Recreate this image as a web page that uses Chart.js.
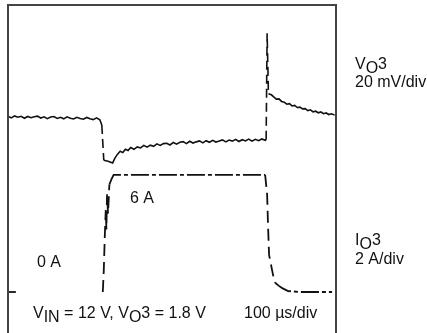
<!DOCTYPE html>
<html lang="en">
<head>
  <meta charset="UTF-8" />
  <title>VO3 load transient</title>
  <script src="https://cdn.jsdelivr.net/npm/chart.js"></script>
  <style>
    body {
      margin: 0;
      background: #fff;
    }
    #wrap {
      width: 427px;
      height: 333px;
    }
  </style>
</head>
<body>
<div id="wrap"><canvas id="scope"></canvas></div>
<script>
  // time axis in µs (100 µs/div)
  const vTime = [0, 10, 20, 30, 40, 50, 60, 70, 80, 90, 100, 110, 120, 130, 140, 150, 160, 170, 180, 190,
    200, 210, 220, 230, 240, 250, 260, 270, 280, 286, 292, 305, 319, 326, 334, 342, 350, 358, 366, 374,
    384, 394, 404, 414, 424, 434, 444, 454, 464, 474, 484, 494, 504, 514, 524, 534, 544, 554, 564, 574,
    584, 594, 604, 614, 624, 634, 644, 654, 664, 674, 684, 694, 704, 714, 724, 734, 744, 754, 764, 774,
    784, 787, 790, 794, 803, 810, 818, 826, 834, 842, 850, 858, 866, 874, 882, 890, 898, 906, 914, 922,
    930, 938, 946, 954, 962, 970, 978, 986, 996];
  // VO3 deviation in mV (20 mV/div)
  const vMilli = [1.0, 0.2, 1.2, 0.5, 1.0, 0.0, 0.9, 0.3, 0.8, 1.1, 0.1, 0.7, -0.2, 0.6, 0.9, -0.1, 0.5, -0.3, 0.7, 0.0,
    -0.4, 0.5, -0.1, -0.5, 0.4, -0.3, -0.7, 0.2, -0.8, -3.5, -21.5, -22.0, -22.9, -20.4, -18.4, -16.9, -17.6, -15.9, -16.5, -15.0,
    -15.9, -14.7, -15.2, -13.9, -14.8, -13.8, -14.4, -13.1, -13.9, -13.0, -12.8, -13.7, -12.4, -13.3, -12.3, -12.0, -13.0, -11.8, -12.7, -12.1,
    -11.6, -12.6, -11.5, -12.3, -11.3, -12.2, -11.7, -11.1, -12.1, -11.2, -11.7, -10.8, -11.9, -11.0, -11.6, -10.7, -11.7, -10.8, -11.5, -10.6,
    -11.3, -11.0, 43.5, 12.6, 12.0, 10.9, 9.8, 9.9, 8.6, 8.2, 7.2, 7.5, 6.3, 6.6, 5.5, 5.7, 4.8, 4.9, 3.9, 4.3,
    3.3, 3.6, 2.8, 3.2, 2.3, 2.7, 1.9, 2.3, 1.6];

  // IO3 load current in A (2 A/div)
  const iTime = [0, 24, 60, 289, 292, 295, 298, 300, 302, 305, 309, 316, 322, 360, 500, 650, 784,
    790, 793, 796, 803, 809, 815, 827, 836, 854, 891, 988];
  const iAmps = [0, 0, null, 0, 1.1, 2.8, 4.2, 3.2, 5.0, 4.0, 5.5, 5.8, 6.0, 6.0, 6.0, 6.0, 6.0,
    5.0, 3.3, 1.9, 1.3, 0.8, 0.46, 0.3, 0.2, 0.05, 0, 0];

  const FONT = "16px 'Liberation Sans', Arial, sans-serif";
  const INK = "#111";

  // steep (fast) edges look broken on the scope photo
  const steep = ctx => Math.abs(ctx.p1.y - ctx.p0.y) > 3 * Math.abs(ctx.p1.x - ctx.p0.x);

  function richText(ctx, parts, x, y) {
    parts.forEach(p => {
      ctx.fillText(p.t, x, p.sub ? y + 4 : y);
      x += ctx.measureText(p.t).width;
    });
  }

  const frameAndText = {
    id: "frameAndText",
    afterDraw(chart) {
      const { ctx, chartArea: a } = chart;
      ctx.save();
      ctx.strokeStyle = "#444";
      ctx.lineWidth = 2;
      ctx.beginPath();
      ctx.moveTo(a.left, a.bottom);
      ctx.lineTo(a.left, a.top);
      ctx.lineTo(a.right, a.top);
      ctx.lineTo(a.right, a.bottom);
      ctx.stroke();

      ctx.fillStyle = INK;
      ctx.font = FONT;
      ctx.textBaseline = "alphabetic";
      richText(ctx, [{ t: "V" }, { t: "O", sub: true }, { t: "3" }], 355, 69);
      ctx.fillText("20 mV/div", 355, 87);
      richText(ctx, [{ t: "I" }, { t: "O", sub: true }, { t: "3" }], 355, 245);
      ctx.fillText("2 A/div", 355, 264);
      ctx.fillText("6 A", 130, 203);
      ctx.fillText("0 A", 37, 267);
      richText(ctx, [{ t: "V" }, { t: "IN", sub: true }, { t: " = 12 V, V" }, { t: "O", sub: true }, { t: "3 = 1.8 V" }], 33, 318);
      ctx.fillText("100 \u00b5s/div", 244, 318);
      ctx.restore();
    }
  };

  new Chart(document.getElementById("scope"), {
    type: "line",
    data: {
      datasets: [
        {
          label: "VO3",
          data: vTime.map((t, i) => ({ x: t, y: vMilli[i] })),
          yAxisID: "yV",
          borderColor: INK,
          borderWidth: 1.6,
          pointRadius: 0,
          tension: 0,
          segment: {
            borderDash: ctx => steep(ctx) ? [9, 5] : undefined
          }
        },
        {
          label: "IO3",
          data: iTime.map((t, i) => ({ x: t, y: iAmps[i] })),
          yAxisID: "yI",
          borderColor: INK,
          borderWidth: 1.8,
          pointRadius: 0,
          tension: 0,
          spanGaps: false,
          borderDash: [18, 3, 4, 3],
          segment: {
            borderDash: ctx => steep(ctx) ? [12, 6] : undefined
          }
        }
      ]
    },
    options: {
      responsive: true,
      maintainAspectRatio: false,
      animation: false,
      layout: { padding: { left: 8, top: 5, right: 91, bottom: 0 } },
      scales: {
        x: { type: "linear", min: 0, max: 1000, display: false },
        yV: { min: -110, max: 58, display: false },
        yI: { min: -2.1, max: 14.7, display: false }
      },
      plugins: {
        legend: { display: false },
        tooltip: { enabled: false }
      }
    },
    plugins: [frameAndText]
  });
</script>
</body>
</html>
